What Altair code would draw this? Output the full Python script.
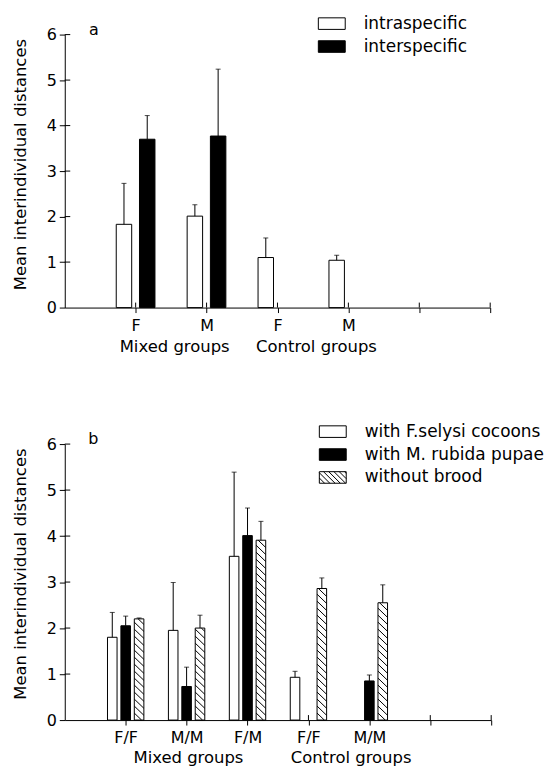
import altair as alt
import pandas as pd

FONT = "DejaVu Sans"

# ---------------- data: panel a ----------------
ticks_a = ["F", "M", "F", "M"]
series_a = ["intraspecific", "interspecific"]
intra_mean = [1.83, 2.01, 1.10, 1.04]
intra_se = [0.90, 0.25, 0.43, 0.11]
inter_mean = [3.70, 3.77, None, None]
inter_se = [0.52, 1.47, None, None]
groups_a = ["Mixed groups", "Control groups"]

# ---------------- data: panel b ----------------
ticks_b = ["F/F", "M/M", "F/M", "F/F", "M/M"]
series_b = ["with F.selysi cocoons", "with M. rubida pupae", "without brood"]
cocoon_mean = [1.80, 1.95, 3.56, 0.93, None]
cocoon_se = [0.54, 1.04, 1.83, 0.13, None]
pupae_mean = [2.05, 0.73, 4.01, None, 0.85]
pupae_se = [0.21, 0.42, 0.60, None, 0.13]
brood_mean = [2.20, 2.00, 3.91, 2.86, 2.55]
brood_se = [0.02, 0.28, 0.41, 0.23, 0.39]
groups_b = ["Mixed groups", "Control groups"]


def long_df(series, means, ses, offsets):
    rows = []
    for s, ml, sl, off in zip(series, means, ses, offsets):
        for i, (m, e) in enumerate(zip(ml, sl)):
            if m is None:
                continue
            rows.append({"pos": i + 1, "series": s, "mean": m, "se": e, "off": off})
    return pd.DataFrame(rows)


def rect_path(h):
    return f"M-1,{-h}H1V{h}H-1Z"


def hatch_path(h, step):
    p = rect_path(h)
    x0 = -1 - 2 * h
    while x0 < 1:
        smin = max(0.0, -1 - x0)
        smax = min(2 * h, 1 - x0)
        if smin < smax:
            p += f"M{x0 + smin:.3f},{-h + smin:.3f}L{x0 + smax:.3f},{-h + smax:.3f}"
        x0 += step
    return p


H_SYM = 0.43
RECT = rect_path(H_SYM)
HATCH = hatch_path(H_SYM, 0.39)


def panel(df, series, fills, W, xmax, width, height, tick_labels, group_labels,
          group_pos, group_y, letter, letter_xy, legend_xy, hatched=None,
          hatch_S=0.152, hatch_D=0.2):
    xs = alt.Scale(domain=[0, xmax], nice=False, zero=False)
    ys = alt.Scale(domain=[0, 6], nice=False)
    fill_scale = alt.Scale(domain=series, range=fills)
    label_expr = "[" + ",".join(f"'{t}'" for t in tick_labels) + "][datum.value - 1] || ''"

    if hatched is not None:
        sym = alt.ExprRef(expr=f"datum.value === '{hatched}' ? '{HATCH}' : '{RECT}'")
    else:
        sym = RECT
    legend = alt.Legend(
        title=None, orient="none", legendX=legend_xy[0], legendY=legend_xy[1],
        symbolType=sym, symbolSize=729, symbolStrokeColor="black",
        symbolStrokeWidth=1, labelFont=FONT, labelFontSize=17, labelColor="black",
        labelOffset=18, rowPadding=1, padding=0, labelLimit=400,
    )

    base = alt.Chart(df).transform_calculate(
        xc="datum.pos + datum.off"
    ).transform_calculate(
        x1=f"datum.xc - {W / 2}", x2=f"datum.xc + {W / 2}", top="datum.mean + datum.se"
    )

    bars = base.mark_rect(stroke="black", strokeWidth=1).encode(
        x=alt.X("x1:Q", scale=xs, axis=alt.Axis(
            values=list(range(1, xmax + 1)), labelExpr=label_expr, title=None,
            grid=False, tickSize=5, labelPadding=5, labelFontSize=16)),
        x2="x2:Q",
        y=alt.Y("mean:Q", scale=ys, axis=alt.Axis(
            values=list(range(0, 7)), format="d", title="Mean interindividual distances",
            grid=False, tickSize=5.5, labelPadding=3, labelFontSize=16,
            titleFontSize=16.5, titlePadding=17.7, titleY=130)),
        y2=alt.datum(0),
        fill=alt.Fill("series:N", scale=fill_scale, legend=legend),
    )

    layers = [bars]

    if hatched is not None:
        hatch = base.transform_filter(alt.datum.series == hatched).transform_calculate(
            ks=f"sequence(0, ceil((datum.mean + {hatch_D}) / {hatch_S}) + 1)"
        ).transform_flatten(["ks"]).transform_calculate(
            yk=f"datum.ks * {hatch_S}"
        ).transform_calculate(
            t0=f"max(0, (datum.yk - datum.mean) / {hatch_D})"
        ).transform_calculate(
            t1=f"min(1, datum.yk / {hatch_D})"
        ).transform_filter("datum.t1 > datum.t0").transform_calculate(
            hx1=f"datum.x1 + {W} * datum.t0"
        ).transform_calculate(
            hx2=f"datum.x1 + {W} * datum.t1"
        ).transform_calculate(
            hy1=f"datum.yk - {hatch_D} * datum.t0"
        ).transform_calculate(
            hy2=f"datum.yk - {hatch_D} * datum.t1"
        ).mark_rule(color="black", strokeWidth=1).encode(
            x=alt.X("hx1:Q", scale=xs), x2="hx2:Q",
            y=alt.Y("hy1:Q", scale=ys), y2="hy2:Q",
        )
        layers.append(hatch)

    err = base.mark_rule(color="black", strokeWidth=1).encode(
        x=alt.X("xc:Q", scale=xs),
        y=alt.Y("mean:Q", scale=ys), y2="top:Q",
    )
    cap = base.mark_tick(color="black", orient="horizontal", size=5, thickness=1).encode(
        x=alt.X("xc:Q", scale=xs),
        y=alt.Y("top:Q", scale=ys),
    )
    layers += [err, cap]

    # inward halves of the crossing ticks
    ytick_df = pd.DataFrame({"v": list(range(1, 7))})
    xtick_df = pd.DataFrame({"v": list(range(1, xmax + 1))})
    yin = alt.Chart(ytick_df).mark_rule(color="black", strokeWidth=1).encode(
        y=alt.Y("v:Q", scale=ys), x=alt.value(0), x2=alt.value(5.5))
    xin = alt.Chart(xtick_df).mark_rule(color="black", strokeWidth=1).encode(
        x=alt.X("v:Q", scale=xs), y=alt.value(height), y2=alt.value(height - 5))
    layers += [yin, xin]

    gl = alt.Chart(pd.DataFrame({"label": group_labels, "x": group_pos})).mark_text(
        font=FONT, fontSize=16.5, color="black", baseline="alphabetic", align="center"
    ).encode(x=alt.X("x:Q", scale=xs), y=alt.datum(group_y), text="label:N")
    layers.append(gl)

    lt = alt.Chart(pd.DataFrame({"label": [letter]})).mark_text(
        font=FONT, fontSize=16, color="black", baseline="middle", align="center"
    ).encode(x=alt.datum(letter_xy[0]), y=alt.datum(letter_xy[1]), text="label:N")
    layers.append(lt)

    return alt.layer(*layers).properties(width=width, height=height)


df_a = long_df(series_a, [intra_mean, inter_mean], [intra_se, inter_se], [-0.165, 0.163])
df_b = long_df(series_b, [cocoon_mean, pupae_mean, brood_mean],
               [cocoon_se, pupae_se, brood_se], [-0.22, 0.0, 0.22])

chart_a = panel(df_a, series_a, ["white", "black"], 0.218, 6, 427, 274, ticks_a,
                groups_a, [1.55, 3.55], -0.98, "a", (0.41, 6.09), (254, -25))
chart_b = panel(df_b, series_b, ["white", "black", "white"], 0.157, 7, 428, 277, ticks_b,
                groups_b, [2.03, 4.70], -0.94, "b", (0.47, 6.1), (255, -26.5),
                hatched=series_b[2])

chart = alt.vconcat(chart_a, chart_b, spacing=137, bounds="flush").resolve_scale(
    fill="independent"
).resolve_legend(fill="independent").properties(
    padding={"left": 12, "top": 8.3, "right": 0, "bottom": 0}
).configure(
    font=FONT,
    view=alt.ViewConfig(stroke=None),
    axis=alt.AxisConfig(
        domainColor="black", tickColor="black", labelColor="black",
        titleColor="black", labelFont=FONT, titleFont=FONT, titleFontWeight="normal",
        grid=False,
    ),
)

chart.save("out.html", embed_options={"renderer": "svg", "actions": False})
